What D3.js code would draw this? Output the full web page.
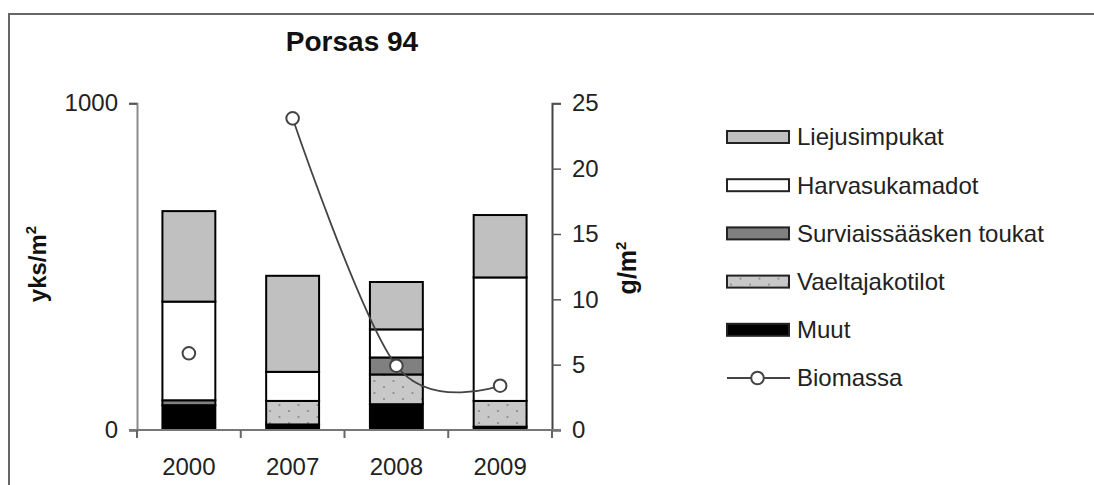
<!DOCTYPE html>
<html>
<head>
<meta charset="utf-8">
<script src="https://cdn.jsdelivr.net/npm/d3@7"></script>
<style>
  body { margin: 0; background: #fff; }
  svg { display: block; font-family: "Liberation Sans", Arial, sans-serif; }
</style>
</head>
<body>
<div id="chart"></div>
<script>
// data (yks/m2 per group, biomass g/m2)
const years = ["2000", "2007", "2008", "2009"];
const muut = [76, 17, 79, 10];
const vaeltajakotilot = [0, 72, 91, 79];
const surviaissaasket = [15, 0, 52, 0];
const harvasukamadot = [302, 89, 86, 378];
const liejusimpukat = [277, 294, 145, 191];
const biomassa = [5.87, 23.85, 4.92, 3.39];
const leftTicks = [0, 1000];
const rightTicks = [0, 5, 10, 15, 20, 25];

// stacking order, bottom to top
const groups = ["Muut", "Vaeltajakotilot", "Surviaissääsken toukat", "Harvasukamadot", "Liejusimpukat"];
const groupValues = [muut, vaeltajakotilot, surviaissaasket, harvasukamadot, liejusimpukat];

const width = 1094;
const height = 485;
const x0 = 137, x1 = 552; // plot left / right
const yTop = 103.3, yBottom = 430;

const svg = d3.select("#chart")
  .append("svg")
  .attr("width", width)
  .attr("height", height);

svg.append("rect").attr("width", width).attr("height", height).attr("fill", "#fff");

// dotted fill for Vaeltajakotilot
const defs = svg.append("defs");
const pat = defs.append("pattern")
  .attr("id", "dots")
  .attr("patternUnits", "userSpaceOnUse")
  .attr("width", 19)
  .attr("height", 12);
pat.append("rect").attr("width", 19).attr("height", 12).attr("fill", "#c8c8c8");
pat.append("circle").attr("cx", 4).attr("cy", 3).attr("r", 1.1).attr("fill", "#8a8a8a");
pat.append("circle").attr("cx", 13.5).attr("cy", 9).attr("r", 1.1).attr("fill", "#8a8a8a");

const fills = {
  "Muut": "#000",
  "Vaeltajakotilot": "url(#dots)",
  "Surviaissääsken toukat": "#808080",
  "Harvasukamadot": "#fff",
  "Liejusimpukat": "#c0c0c0"
};

// frame round the chart (only top and left edges show)
svg.append("rect")
  .attr("x", 9)
  .attr("y", 14)
  .attr("width", 1200)
  .attr("height", 600)
  .attr("fill", "none")
  .attr("stroke", "#666")
  .attr("stroke-width", 2);

// scales
const xScale = d3.scaleBand()
  .domain(years)
  .range([x0, x1])
  .paddingInner(0.49)
  .paddingOuter(0.245);

const yLeft = d3.scaleLinear().domain([0, 1000]).range([yBottom, yTop]);
const yRight = d3.scaleLinear().domain([0, 25]).range([yBottom, yTop]);

// stacked bars
const table = years.map((year, i) => {
  const row = { year: year };
  groups.forEach((g, j) => { row[g] = groupValues[j][i]; });
  return row;
});
const stacked = d3.stack().keys(groups)(table);

const layers = svg.append("g")
  .selectAll("g")
  .data(stacked)
  .enter()
  .append("g")
  .attr("fill", d => fills[d.key]);

layers.selectAll("rect")
  .data(d => d.filter(p => p[1] > p[0]))
  .enter()
  .append("rect")
  .attr("x", d => xScale(d.data.year))
  .attr("y", d => yLeft(d[1]))
  .attr("width", xScale.bandwidth())
  .attr("height", d => yLeft(d[0]) - yLeft(d[1]))
  .attr("stroke", "#000")
  .attr("stroke-width", 2);

// left axis
const leftAxis = svg.append("g")
  .attr("transform", `translate(${x0},0)`)
  .call(d3.axisLeft(yLeft).tickValues(leftTicks).tickFormat(d3.format("d")).tickSize(8).tickPadding(11));

// right axis
const rightAxis = svg.append("g")
  .attr("transform", `translate(${x1},0)`)
  .call(d3.axisRight(yRight).tickValues(rightTicks).tickSize(9).tickPadding(11));

leftAxis.select(".domain").attr("stroke", "#8c8c8c").attr("stroke-width", 2);
leftAxis.selectAll(".tick line").attr("stroke", "#555").attr("stroke-width", 2);
rightAxis.select(".domain").attr("stroke", "#444").attr("stroke-width", 2);
rightAxis.selectAll(".tick line").attr("stroke", "#555").attr("stroke-width", 1.5);
svg.selectAll(".tick text")
  .style("font-family", "'Liberation Sans', Arial, sans-serif")
  .style("font-size", "24px")
  .attr("fill", "#222");

// x axis: line, boundary ticks and year labels
svg.append("line")
  .attr("x1", x0 - 8)
  .attr("x2", x1 + 9)
  .attr("y1", yBottom)
  .attr("y2", yBottom)
  .attr("stroke", "#777")
  .attr("stroke-width", 2);

const step = xScale.step();
const boundaries = years.map(y => xScale(y) + xScale.bandwidth() / 2 - step / 2)
  .concat([xScale(years[years.length - 1]) + xScale.bandwidth() / 2 + step / 2]);

svg.append("g")
  .selectAll("line")
  .data(boundaries)
  .enter()
  .append("line")
  .attr("x1", d => d)
  .attr("x2", d => d)
  .attr("y1", yBottom)
  .attr("y2", yBottom + 8)
  .attr("stroke", "#666")
  .attr("stroke-width", 2);

svg.append("g")
  .selectAll("text")
  .data(years)
  .enter()
  .append("text")
  .attr("x", d => xScale(d) + xScale.bandwidth() / 2)
  .attr("y", 475)
  .attr("text-anchor", "middle")
  .style("font-size", "24px")
  .attr("fill", "#222")
  .text(d => d);

// biomass line (the 2000 point is not joined in the original)
const cx = (d, i) => xScale(years[i]) + xScale.bandwidth() / 2;
const line = d3.line()
  .defined((d, i) => i > 0)
  .x(cx)
  .y(d => yRight(d))
  .curve(d3.curveCatmullRom.alpha(0));

svg.append("path")
  .datum(biomassa)
  .attr("d", line)
  .attr("fill", "none")
  .attr("stroke", "#444")
  .attr("stroke-width", 1.8);

svg.append("g")
  .selectAll("circle")
  .data(biomassa)
  .enter()
  .append("circle")
  .attr("cx", cx)
  .attr("cy", d => yRight(d))
  .attr("r", 6.3)
  .attr("fill", "#fff")
  .attr("stroke", "#444")
  .attr("stroke-width", 2);

// title
svg.append("text")
  .attr("x", 352)
  .attr("y", 51)
  .attr("text-anchor", "middle")
  .style("font-size", "28px")
  .style("font-weight", "bold")
  .attr("fill", "#111")
  .text("Porsas 94");

// axis titles
const yLabel = svg.append("text")
  .attr("transform", "translate(46,264) rotate(-90)")
  .attr("text-anchor", "middle")
  .style("font-size", "24px")
  .style("font-weight", "bold")
  .attr("fill", "#111");
yLabel.append("tspan").text("yks/m");
yLabel.append("tspan").attr("dy", -10).style("font-size", "15px").text("2");

const gLabel = svg.append("text")
  .attr("transform", "translate(636,268) rotate(-90)")
  .attr("text-anchor", "middle")
  .style("font-size", "25px")
  .style("font-weight", "bold")
  .attr("fill", "#111");
gLabel.append("tspan").text("g/m");
gLabel.append("tspan").attr("dy", -10).style("font-size", "15px").text("2");

// legend
const legendItems = ["Liejusimpukat", "Harvasukamadot", "Surviaissääsken toukat", "Vaeltajakotilot", "Muut"];
const legend = svg.append("g").attr("class", "legend");
const rowY = i => 137 + i * 48.2;

const items = legend.selectAll(".legend-item")
  .data(legendItems)
  .enter()
  .append("g")
  .attr("class", "legend-item")
  .attr("transform", (d, i) => `translate(727, ${rowY(i)})`);

items.append("rect")
  .attr("x", 0)
  .attr("y", -6)
  .attr("width", 62)
  .attr("height", 12)
  .attr("fill", d => fills[d])
  .attr("stroke", "#222")
  .attr("stroke-width", 2);

items.append("text")
  .attr("x", 70)
  .attr("y", 0)
  .attr("dy", "0.35em")
  .style("font-size", "24px")
  .attr("fill", "#222")
  .text(d => d);

const bio = legend.append("g").attr("transform", `translate(727, ${rowY(5)})`);
bio.append("line").attr("x1", 0).attr("x2", 63).attr("y1", 0).attr("y2", 0)
  .attr("stroke", "#444").attr("stroke-width", 1.8);
bio.append("circle").attr("cx", 30.5).attr("cy", 0).attr("r", 6.3)
  .attr("fill", "#fff").attr("stroke", "#444").attr("stroke-width", 2);
bio.append("text")
  .attr("x", 70)
  .attr("y", 0)
  .attr("dy", "0.35em")
  .style("font-size", "24px")
  .attr("fill", "#222")
  .text("Biomassa");
</script>
</body>
</html>
